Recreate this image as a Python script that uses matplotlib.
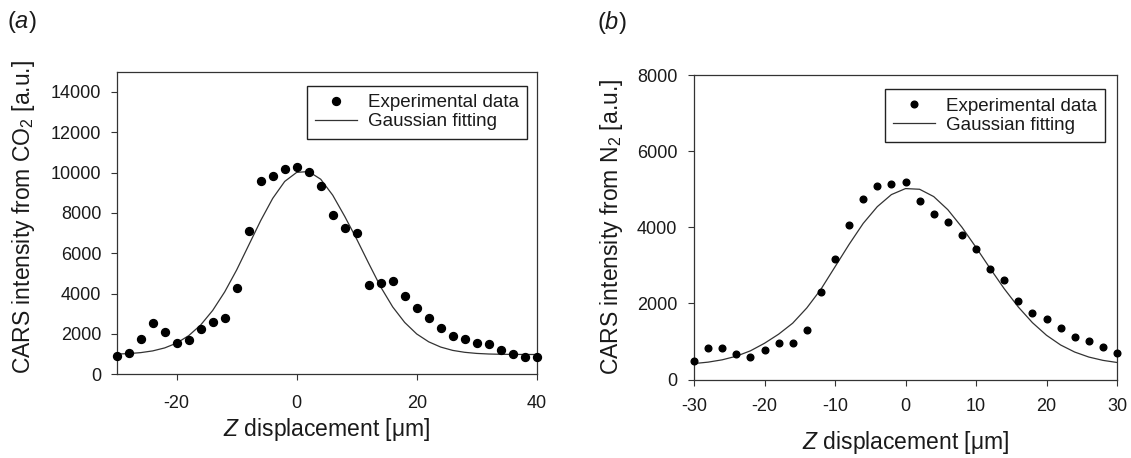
import matplotlib
matplotlib.use("Agg")
import matplotlib.pyplot as plt

plt.rcParams['font.family'] = ['Liberation Sans', 'DejaVu Sans']
plt.rcParams['mathtext.fontset'] = 'custom'
plt.rcParams['mathtext.rm'] = 'Liberation Sans'
plt.rcParams['mathtext.it'] = 'Liberation Sans:italic'
plt.rcParams['axes.unicode_minus'] = False

# (a) CO2 signal vs z displacement
z_a = [-30, -28, -26, -24, -22, -20, -18, -16, -14, -12, -10, -8, -6, -4, -2, 0,
       2, 4, 6, 8, 10, 12, 14, 16, 18, 20, 22, 24, 26, 28, 30, 32, 34, 36, 38, 40]
co2_exp = [900, 1040, 1760, 2550, 2090, 1560, 1700, 2260, 2600, 2800, 4280, 7080,
           9590, 9830, 10160, 10260, 10050, 9310, 7900, 7250, 7000, 4410, 4510, 4610,
           3870, 3280, 2800, 2310, 1890, 1730, 1560, 1520, 1200, 990, 870, 870]
co2_fit = [1002, 1027, 1074, 1160, 1308, 1548, 1915, 2446, 3167, 4085, 5177, 6400,
           7620, 8720, 9560, 10010, 10050, 9670, 8880, 7830, 6700, 5500, 4330, 3340,
           2570, 2000, 1610, 1350, 1185, 1090, 1035, 1006, 992, 986, 983, 981]

# (b) N2 signal vs z displacement
z_b = [-30, -28, -26, -24, -22, -20, -18, -16, -14, -12, -10, -8, -6, -4, -2, 0,
       2, 4, 6, 8, 10, 12, 14, 16, 18, 20, 22, 24, 26, 28, 30]
n2_exp = [480, 825, 825, 667, 596, 763, 947, 947, 1307, 2307, 3175, 4061, 4754, 5079,
          5132, 5193, 4702, 4342, 4140, 3807, 3439, 2912, 2614, 2061, 1754, 1596, 1351,
          1114, 1009, 851, 702]
n2_fit = [419, 456, 517, 612, 753, 952, 1190, 1480, 1880, 2370, 2960, 3550, 4101, 4541,
          4858, 5016, 4998, 4806, 4462, 4002, 3472, 2919, 2386, 1905, 1494, 1162, 907,
          721, 590, 503, 447]

W, H = 1131, 458
fig = plt.figure(figsize=(W / 100, H / 100), dpi=100)

dark = '#1a1a1a'
spine_col = '#333333'


def panel(rect, x, y_exp, y_fit, ms):
    ax = fig.add_axes(rect)
    ax.plot(x, y_exp, 'o', ls='none', color='black', ms=ms, clip_on=False,
            zorder=3, label='Experimental data')
    ax.plot(x, y_fit, '-', color='#333333', lw=0.9, label='Gaussian fitting')
    for s in ax.spines.values():
        s.set_color(spine_col)
        s.set_linewidth(0.9)
    ax.tick_params(top=False, right=False, direction='out', length=4, width=0.8,
                   color=spine_col, labelsize=13, labelcolor=dark)
    return ax


# panel (a)
ax1 = panel([116.7 / W, 1 - 374.3 / H, 420 / W, 302.6 / H], z_a, co2_exp, co2_fit, 5.7)
ax1.set_xlim(-30, 40)
ax1.set_ylim(0, 15000)
ax1.set_xticks([-20, 0, 20, 40])
ax1.set_yticks(range(0, 14001, 2000))
ax1.tick_params(axis='x', pad=11)
ax1.tick_params(axis='y', pad=7)
ax1.set_xlabel(r'$\mathit{Z}$ displacement [μm]', fontsize=16.5, color=dark)
ax1.set_ylabel(r'CARS intensity from CO$_2$ [a.u.]', fontsize=16.5, color=dark)
ax1.xaxis.label.set_va('center')
ax1.yaxis.label.set_va('center')
ax1.xaxis.set_label_coords(0.5, -0.184)
ax1.yaxis.set_label_coords(-0.221, 0.52)

# panel (b)
ax2 = panel([694 / W, 1 - 379.5 / H, 423 / W, 304.5 / H], z_b, n2_exp, n2_fit, 4.8)
ax2.set_xlim(-30, 30)
ax2.set_ylim(0, 8000)
ax2.set_xticks(range(-30, 31, 10))
ax2.set_yticks(range(0, 8001, 2000))
ax2.tick_params(axis='x', pad=9)
ax2.tick_params(axis='y', pad=8)
ax2.set_xlabel(r'$\mathit{Z}$ displacement [μm]', fontsize=16.5, color=dark)
ax2.set_ylabel(r'CARS intensity from N$_2$ [a.u.]', fontsize=16.5, color=dark)
ax2.xaxis.label.set_va('center')
ax2.yaxis.label.set_va('center')
ax2.xaxis.set_label_coords(0.5, -0.207)
ax2.yaxis.set_label_coords(-0.196, 0.5)

for ax, anchor in [(ax1, (0.977, 0.953)), (ax2, (0.9716, 0.954))]:
    leg = ax.legend(loc='upper right', bbox_to_anchor=anchor, borderaxespad=0,
                    fontsize=13.5, numpoints=1, handlelength=2.25, handletextpad=0.55,
                    labelspacing=0.1, borderpad=0.45, fancybox=False, framealpha=1)
    leg.get_frame().set_edgecolor('#222222')
    leg.get_frame().set_linewidth(1.0)
    for t in leg.get_texts():
        t.set_color(dark)

fig.text(7 / W, 1 - 22 / H, r'($\mathit{a}$)', fontsize=17, va='center', color=dark)
fig.text(597 / W, 1 - 22 / H, r'($\mathit{b}$)', fontsize=17, va='center', color=dark)

fig.savefig('out.png', dpi=100)
